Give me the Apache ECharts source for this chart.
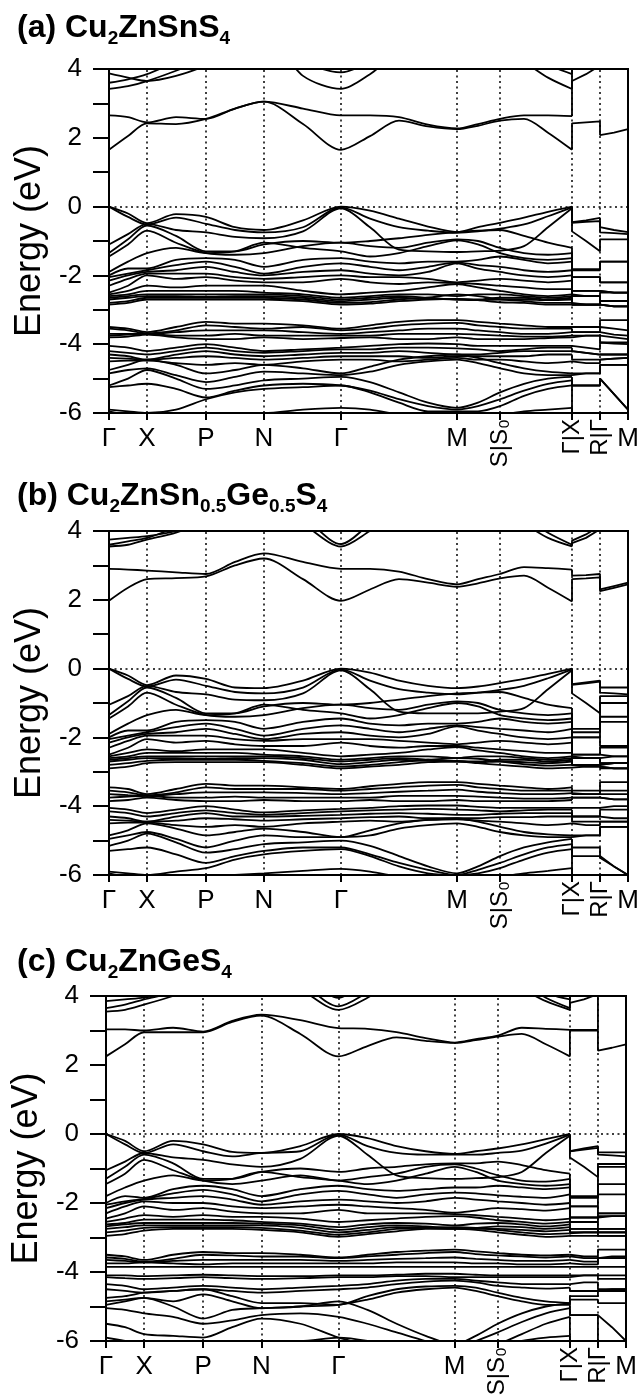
<!DOCTYPE html>
<html><head><meta charset="utf-8">
<script src="https://cdn.jsdelivr.net/npm/echarts@6/dist/echarts.min.js"></script>
<style>html,body{margin:0;padding:0;background:#fff}#c{width:644px;height:1399px}</style>
</head><body><div id="c"></div>
<script>
// k-path sample positions (path distance units)
const K_MAIN = [0,19,38,67,97,126,155,194,232,261,290,319,348,369,391,415,439,463];
const K_TAIL = [463,477,491,491,505,519];
const SYM_POS = [0,38,97,155,232,348,391,463,491,519];
const SYM_LABEL = ['Γ','X','P','N','Γ','M','S|S₀','Γ|X','R|Γ','M'];
const SYM_ROT = [0,0,0,0,0,0,1,1,1,0];
const DOTTED_POS = [38,97,155,232,348,391,463,491];
const E_MIN = -6, E_MAX = 4;
const Y_NAME = 'Energy (eV)';
const TITLES = [
  '{m|(a) Cu}{s|2}{m|ZnSnS}{s|4}',
  '{m|(b) Cu}{s|2}{m|ZnSn}{s|0.5}{m|Ge}{s|0.5}{m|S}{s|4}',
  '{m|(c) Cu}{s|2}{m|ZnGeS}{s|4}'
];

// each band: 18 values on Γ-X-P-N-Γ-M-S|S0-Γ, then 3 on X-R, then 3 on Γ-M
const BANDS_A = [
[1.65,2.05,2.42,2.4,2.55,2.85,3.05,2.4,1.65,2.05,2.5,2.33,2.25,2.35,2.5,2.55,2.15,1.65, 2.42,2.45,2.48, 2.08,2.15,2.25],
[2.65,2.6,2.45,2.6,2.55,2.85,3.05,2.85,2.65,2.65,2.6,2.38,2.27,2.4,2.55,2.65,2.65,2.63, 3.65,3.85,4.1, 4.3,4.3,4.3],
[3.42,3.5,3.65,3.95,4.3,4.6,4.8,4.2,3.9,4.2,4.6,4.7,4.7,4.6,4.5,4.3,4.1,3.85, 4.3,4.3,4.3, 4.4,4.4,4.4],
[3.6,3.7,3.85,4.2,4.5,4.8,5,3.8,3.42,3.85,4.5,4.8,4.8,4.7,4.5,4.2,3.75,3.42, 4.4,4.4,4.4, 4.5,4.5,4.5],
[3.87,3.75,3.65,3.8,4.1,4.5,4.8,4.5,4.2,4.5,4.8,5,5,5,4.8,4.5,4.3,4.1, 4.5,4.5,4.5, 4.6,4.6,4.6],
[0,-0.2,-0.48,-0.22,-0.3,-0.6,-0.68,-0.4,0,-0.12,-0.35,-0.58,-0.74,-0.6,-0.47,-0.32,-0.15,0, -0.45,-0.4,-0.33, -0.6,-0.68,-0.74],
[0,-0.3,-0.52,-0.32,-0.5,-0.68,-0.75,-0.6,-0.02,-0.35,-0.6,-0.7,-0.76,-0.72,-0.64,-0.52,-0.28,-0.02, -0.47,-0.44,-0.42, -0.75,-0.77,-0.8],
[-1.1,-0.8,-0.5,-0.68,-0.75,-0.88,-0.92,-0.72,-0.05,-0.6,-1.25,-1.3,-1.32,-1.3,-1.28,-1.15,-0.6,-0.05, -0.72,-1.0,-1.3, -0.95,-0.95,-0.95],
[-1.35,-0.95,-0.55,-0.85,-1.3,-1.3,-1.1,-1.0,-1.05,-1.0,-0.92,-0.82,-0.74,-0.7,-0.68,-0.85,-1.05,-1.2, -1.82,-1.82,-1.82, -1.6,-1.6,-1.6],
[-1.45,-1.1,-0.7,-1.05,-1.35,-1.4,-1.35,-1.15,-1.05,-1.15,-1.2,-1.05,-0.95,-1.0,-1.2,-1.35,-1.4,-1.35, -1.85,-1.85,-1.85, -1.6,-1.6,-1.6],
[-1.9,-1.6,-1.35,-1.2,-1.35,-1.3,-1.05,-1.2,-1.3,-1.45,-1.35,-1.15,-0.98,-1.1,-1.35,-1.5,-1.55,-1.5, -2.05,-2.05,-2.05, -2.2,-2.2,-2.2],
[-2.0,-1.8,-1.8,-1.55,-1.5,-1.55,-1.75,-1.55,-1.5,-1.6,-1.65,-1.6,-1.6,-1.55,-1.45,-1.55,-1.65,-1.6, -2.05,-2.05,-2.05, -2.2,-2.2,-2.2],
[-2.05,-1.95,-1.85,-1.7,-1.6,-1.75,-1.95,-1.75,-1.65,-1.75,-1.85,-1.75,-1.62,-1.7,-1.75,-1.85,-1.9,-1.85, -2.45,-2.45,-2.45, -2.5,-2.5,-2.5],
[-2.15,-2.0,-1.9,-1.85,-1.75,-1.9,-2.0,-1.9,-1.85,-1.95,-2.0,-1.9,-1.65,-1.8,-1.9,-2.0,-2.05,-2.0, -2.45,-2.45,-2.45, -2.5,-2.5,-2.5],
[-2.3,-2.1,-1.95,-1.95,-1.95,-2.05,-2.1,-2.05,-2.0,-2.05,-2.05,-2.1,-2.2,-2.15,-2.1,-2.15,-2.2,-2.15, -2.6,-2.6,-2.6, -2.5,-2.5,-2.5],
[-2.5,-2.3,-2.0,-2.1,-2.05,-2.15,-2.2,-2.2,-2.1,-2.2,-2.25,-2.2,-2.22,-2.25,-2.3,-2.35,-2.4,-2.4, -2.6,-2.6,-2.6, -2.75,-2.75,-2.75],
[-2.55,-2.45,-2.3,-2.35,-2.3,-2.3,-2.3,-2.45,-2.55,-2.5,-2.45,-2.35,-2.25,-2.35,-2.45,-2.55,-2.6,-2.55, -2.6,-2.6,-2.6, -2.75,-2.75,-2.75],
[-2.6,-2.55,-2.45,-2.45,-2.45,-2.45,-2.5,-2.55,-2.65,-2.6,-2.55,-2.55,-2.6,-2.55,-2.55,-2.6,-2.65,-2.6, -2.85,-2.85,-2.85, -2.75,-2.75,-2.75],
[-2.65,-2.6,-2.55,-2.55,-2.55,-2.55,-2.55,-2.6,-2.7,-2.65,-2.6,-2.65,-2.7,-2.7,-2.65,-2.65,-2.7,-2.65, -2.85,-2.85,-2.85, -2.75,-2.75,-2.75],
[-2.7,-2.65,-2.6,-2.6,-2.62,-2.6,-2.6,-2.65,-2.75,-2.7,-2.65,-2.68,-2.7,-2.72,-2.7,-2.7,-2.72,-2.7, -2.85,-2.85,-2.85, -2.9,-2.9,-2.9],
[-2.8,-2.75,-2.65,-2.65,-2.65,-2.65,-2.65,-2.7,-2.8,-2.78,-2.7,-2.65,-2.55,-2.6,-2.7,-2.75,-2.8,-2.8, -2.85,-2.85,-2.85, -2.9,-2.9,-2.9],
[-2.85,-2.8,-2.7,-2.7,-2.7,-2.7,-2.7,-2.75,-2.85,-2.82,-2.75,-2.7,-2.68,-2.72,-2.78,-2.8,-2.85,-2.85, -2.85,-2.85,-2.85, -2.9,-2.9,-2.9],
[-3.5,-3.55,-3.65,-3.5,-3.35,-3.4,-3.4,-3.45,-3.55,-3.45,-3.35,-3.3,-3.3,-3.35,-3.4,-3.45,-3.5,-3.5, -3.5,-3.5,-3.5, -3.3,-3.3,-3.3],
[-3.55,-3.6,-3.68,-3.6,-3.45,-3.5,-3.55,-3.5,-3.6,-3.55,-3.45,-3.4,-3.38,-3.45,-3.5,-3.55,-3.55,-3.55, -3.65,-3.65,-3.65, -3.5,-3.55,-3.6],
[-3.7,-3.7,-3.7,-3.65,-3.6,-3.6,-3.6,-3.65,-3.7,-3.65,-3.6,-3.55,-3.55,-3.6,-3.65,-3.7,-3.7,-3.65, -3.65,-3.65,-3.65, -3.7,-3.72,-3.75],
[-3.75,-3.72,-3.7,-3.75,-3.75,-3.7,-3.75,-3.75,-3.75,-3.75,-3.7,-3.7,-3.7,-3.72,-3.75,-3.78,-3.78,-3.75, -3.75,-3.75,-3.75, -3.75,-3.8,-3.85],
[-3.8,-3.78,-3.72,-3.8,-3.85,-3.85,-3.8,-3.85,-3.82,-3.8,-3.85,-3.85,-3.8,-3.85,-3.85,-3.85,-3.82,-3.8, -3.75,-3.75,-3.75, -3.95,-3.95,-3.95],
[-4.05,-4.1,-4.2,-4.1,-4.0,-4.1,-4.2,-4.15,-4.1,-4.05,-4.0,-3.98,-4.0,-4.05,-4.05,-4.05,-4.05,-4.05, -4.05,-4.1,-4.15, -3.95,-3.98,-4.0],
[-4.2,-4.25,-4.3,-4.2,-4.1,-4.2,-4.25,-4.2,-4.15,-4.15,-4.1,-4.1,-4.12,-4.15,-4.2,-4.15,-4.1,-4.1, -4.2,-4.25,-4.3, -4.3,-4.3,-4.3],
[-4.3,-4.35,-4.45,-4.3,-4.2,-4.3,-4.35,-4.3,-4.25,-4.25,-4.2,-4.25,-4.3,-4.3,-4.25,-4.2,-4.2,-4.2, -4.2,-4.25,-4.3, -4.3,-4.3,-4.3],
[-4.4,-4.42,-4.45,-4.4,-4.35,-4.4,-4.45,-4.4,-4.35,-4.35,-4.35,-4.4,-4.35,-4.35,-4.35,-4.35,-4.3,-4.3, -4.45,-4.45,-4.45, -4.45,-4.42,-4.4],
[-4.5,-4.48,-4.48,-4.55,-4.6,-4.55,-4.6,-4.5,-4.45,-4.45,-4.5,-4.45,-4.4,-4.45,-4.45,-4.5,-4.55,-4.5, -4.55,-4.55,-4.55, -4.45,-4.42,-4.4],
[-4.75,-4.6,-4.45,-4.6,-4.85,-4.75,-4.6,-4.7,-4.85,-4.65,-4.45,-4.35,-4.3,-4.4,-4.55,-4.7,-4.8,-4.85, -4.85,-4.85,-4.85, -4.6,-4.6,-4.6],
[-4.85,-4.75,-4.7,-4.9,-5.1,-4.95,-4.8,-4.85,-4.9,-4.8,-4.6,-4.5,-4.45,-4.55,-4.7,-4.85,-4.9,-4.9, -4.85,-4.85,-4.85, -4.6,-4.6,-4.6],
[-5.2,-5.0,-4.75,-5.0,-5.3,-5.2,-5.05,-5.0,-4.95,-5.1,-5.4,-5.7,-5.85,-5.7,-5.4,-5.15,-5.0,-4.95, -5.2,-5.2,-5.2, -5.0,-5.45,-5.9],
[-5.25,-5.2,-5.15,-5.3,-5.55,-5.35,-5.2,-5.15,-5.2,-5.35,-5.6,-5.8,-5.9,-5.8,-5.6,-5.35,-5.15,-5.05, -5.2,-5.2,-5.2, -5.0,-5.45,-5.9],
[-5.9,-5.95,-6.0,-5.9,-5.6,-5.4,-5.3,-5.25,-5.2,-5.4,-5.7,-5.95,-5.95,-5.95,-5.8,-5.5,-5.3,-5.2, -6.1,-6.1,-6.1, -6.1,-6.1,-6.1],
[-5.95,-6.05,-6.1,-6.1,-6.05,-6.0,-6.0,-5.9,-5.85,-5.9,-6.05,-6.15,-6.2,-6.15,-6.05,-5.95,-5.9,-5.85, -6.1,-6.1,-6.1, -6.2,-6.2,-6.2]
];

const BANDS_B = [
[1.97,2.35,2.6,2.63,2.68,3.0,3.2,2.6,1.97,2.3,2.6,2.5,2.38,2.48,2.62,2.7,2.35,1.95, 2.6,2.62,2.65, 2.25,2.35,2.45],
[2.9,2.88,2.85,2.8,2.75,3.1,3.35,3.1,2.9,2.9,2.82,2.6,2.45,2.6,2.75,2.95,2.92,2.88, 2.7,2.72,2.75, 2.3,2.4,2.5],
[3.55,3.6,3.75,3.95,4.3,4.6,4.8,4.2,3.55,4.0,4.5,4.8,4.8,4.7,4.5,4.2,3.8,3.55, 3.65,3.8,4.05, 4.3,4.3,4.3],
[3.6,3.7,3.8,4.1,4.4,4.7,4.9,4.4,3.62,4.2,4.7,5,5,4.9,4.7,4.4,3.95,3.6, 3.72,3.9,4.15, 4.4,4.4,4.4],
[3.75,3.8,3.85,4.0,4.3,4.6,4.9,4.6,4.2,4.5,4.8,5,5,5,4.9,4.7,4.4,4.15, 4.3,4.3,4.3, 4.5,4.5,4.5],
[0,-0.2,-0.48,-0.2,-0.3,-0.55,-0.57,-0.35,0,-0.12,-0.35,-0.5,-0.57,-0.52,-0.42,-0.3,-0.15,0, -0.45,-0.4,-0.35, -0.55,-0.55,-0.55],
[0,-0.3,-0.52,-0.32,-0.5,-0.68,-0.72,-0.55,-0.02,-0.35,-0.6,-0.7,-0.75,-0.7,-0.62,-0.5,-0.28,-0.02, -0.47,-0.43,-0.38, -0.7,-0.72,-0.75],
[-1.05,-0.8,-0.5,-0.68,-0.75,-0.9,-0.92,-0.72,-0.05,-0.6,-1.25,-1.3,-1.3,-1.3,-1.25,-1.15,-0.6,-0.05, -0.72,-1.0,-1.3, -0.8,-0.8,-0.8],
[-1.35,-0.95,-0.55,-0.85,-1.3,-1.3,-1.1,-1.0,-1.05,-1.0,-0.9,-0.8,-0.72,-0.7,-0.68,-0.85,-1.05,-1.15, -1.75,-1.75,-1.75, -1.0,-1.0,-1.0],
[-1.45,-1.1,-0.7,-1.05,-1.35,-1.4,-1.35,-1.15,-1.05,-1.15,-1.2,-1.05,-0.95,-1.0,-1.2,-1.3,-1.35,-1.3, -1.85,-1.85,-1.85, -1.4,-1.4,-1.4],
[-1.9,-1.6,-1.35,-1.2,-1.35,-1.3,-1.05,-1.2,-1.3,-1.45,-1.35,-1.15,-1.0,-1.1,-1.35,-1.45,-1.5,-1.45, -2.0,-2.0,-2.0, -1.55,-1.55,-1.55],
[-2.0,-1.8,-1.8,-1.55,-1.5,-1.55,-1.75,-1.55,-1.45,-1.6,-1.65,-1.6,-1.6,-1.55,-1.45,-1.55,-1.6,-1.55, -2.0,-2.0,-2.0, -2.25,-2.25,-2.25],
[-2.05,-1.95,-1.85,-1.7,-1.6,-1.75,-1.95,-1.75,-1.65,-1.75,-1.85,-1.75,-1.65,-1.7,-1.75,-1.8,-1.85,-1.75, -2.5,-2.5,-2.5, -2.3,-2.3,-2.3],
[-2.15,-2.0,-1.9,-1.85,-1.75,-1.9,-2.05,-1.9,-1.85,-1.95,-2.0,-1.9,-1.68,-1.8,-1.9,-2.0,-2.05,-2.0, -2.5,-2.5,-2.5, -2.55,-2.55,-2.55],
[-2.3,-2.1,-1.95,-1.95,-1.95,-2.05,-2.1,-2.05,-2.05,-2.05,-2.1,-2.15,-2.2,-2.15,-2.1,-2.15,-2.2,-2.15, -2.6,-2.6,-2.6, -2.55,-2.55,-2.55],
[-2.5,-2.3,-2.05,-2.15,-2.1,-2.2,-2.25,-2.25,-2.15,-2.25,-2.3,-2.25,-2.25,-2.3,-2.35,-2.4,-2.45,-2.45, -2.6,-2.6,-2.6, -2.75,-2.75,-2.75],
[-2.55,-2.45,-2.35,-2.4,-2.35,-2.35,-2.35,-2.45,-2.55,-2.5,-2.45,-2.35,-2.28,-2.38,-2.45,-2.55,-2.6,-2.55, -2.6,-2.6,-2.6, -2.75,-2.75,-2.75],
[-2.6,-2.55,-2.45,-2.45,-2.45,-2.45,-2.5,-2.55,-2.65,-2.6,-2.55,-2.55,-2.6,-2.55,-2.55,-2.6,-2.65,-2.6, -2.8,-2.8,-2.8, -2.75,-2.75,-2.75],
[-2.65,-2.6,-2.55,-2.55,-2.55,-2.55,-2.55,-2.6,-2.7,-2.65,-2.6,-2.65,-2.68,-2.7,-2.65,-2.65,-2.7,-2.65, -2.8,-2.8,-2.8, -2.75,-2.75,-2.75],
[-2.7,-2.65,-2.6,-2.6,-2.62,-2.6,-2.6,-2.65,-2.78,-2.72,-2.65,-2.68,-2.7,-2.72,-2.7,-2.72,-2.75,-2.7, -2.8,-2.8,-2.8, -2.9,-2.9,-2.9],
[-2.8,-2.75,-2.68,-2.65,-2.65,-2.65,-2.68,-2.75,-2.85,-2.8,-2.72,-2.65,-2.6,-2.62,-2.7,-2.78,-2.82,-2.8, -2.85,-2.85,-2.85, -2.9,-2.9,-2.9],
[-2.9,-2.85,-2.75,-2.72,-2.72,-2.72,-2.72,-2.8,-2.9,-2.85,-2.8,-2.72,-2.7,-2.75,-2.8,-2.85,-2.9,-2.88, -2.85,-2.85,-2.85, -2.9,-2.9,-2.9],
[-3.45,-3.5,-3.65,-3.5,-3.35,-3.4,-3.4,-3.45,-3.5,-3.42,-3.35,-3.3,-3.3,-3.35,-3.4,-3.45,-3.5,-3.45, -3.55,-3.55,-3.55, -3.3,-3.3,-3.3],
[-3.55,-3.6,-3.68,-3.6,-3.45,-3.5,-3.5,-3.5,-3.55,-3.5,-3.45,-3.4,-3.38,-3.45,-3.5,-3.55,-3.55,-3.55, -3.65,-3.65,-3.65, -3.55,-3.55,-3.55],
[-3.65,-3.68,-3.7,-3.65,-3.6,-3.6,-3.6,-3.62,-3.65,-3.62,-3.58,-3.55,-3.52,-3.58,-3.62,-3.65,-3.65,-3.62, -3.65,-3.65,-3.65, -3.65,-3.65,-3.65],
[-3.75,-3.72,-3.7,-3.75,-3.75,-3.72,-3.75,-3.75,-3.75,-3.75,-3.7,-3.7,-3.7,-3.72,-3.75,-3.78,-3.78,-3.75, -3.75,-3.75,-3.75, -3.8,-3.8,-3.8],
[-3.85,-3.82,-3.75,-3.82,-3.85,-3.85,-3.82,-3.85,-3.85,-3.82,-3.85,-3.85,-3.82,-3.85,-3.85,-3.85,-3.85,-3.82, -3.75,-3.75,-3.75, -3.8,-3.8,-3.8],
[-4.05,-4.1,-4.2,-4.1,-4.0,-4.1,-4.18,-4.12,-4.08,-4.05,-4.0,-3.98,-3.98,-4.02,-4.05,-4.05,-4.05,-4.05, -4.05,-4.05,-4.05, -4.0,-4.0,-4.0],
[-4.15,-4.2,-4.3,-4.2,-4.12,-4.2,-4.25,-4.2,-4.15,-4.12,-4.1,-4.08,-4.1,-4.12,-4.15,-4.12,-4.1,-4.1, -4.3,-4.3,-4.3, -4.1,-4.1,-4.1],
[-4.3,-4.35,-4.45,-4.3,-4.2,-4.3,-4.3,-4.28,-4.25,-4.22,-4.2,-4.22,-4.25,-4.25,-4.22,-4.2,-4.2,-4.2, -4.3,-4.3,-4.3, -4.35,-4.35,-4.35],
[-4.4,-4.42,-4.45,-4.42,-4.35,-4.38,-4.42,-4.38,-4.35,-4.32,-4.3,-4.35,-4.35,-4.35,-4.32,-4.32,-4.3,-4.3, -4.45,-4.45,-4.45, -4.45,-4.45,-4.45],
[-4.5,-4.48,-4.48,-4.55,-4.6,-4.55,-4.6,-4.5,-4.45,-4.42,-4.45,-4.4,-4.38,-4.42,-4.45,-4.5,-4.55,-4.5, -4.55,-4.55,-4.55, -4.45,-4.45,-4.45],
[-4.85,-4.7,-4.5,-4.65,-4.85,-4.75,-4.65,-4.75,-4.9,-4.7,-4.5,-4.4,-4.35,-4.45,-4.6,-4.75,-4.82,-4.85, -4.85,-4.85,-4.85, -4.6,-4.6,-4.6],
[-4.95,-4.85,-4.75,-4.95,-5.2,-5.0,-4.85,-4.9,-4.9,-4.85,-4.65,-4.55,-4.5,-4.6,-4.75,-4.85,-4.9,-4.9, -4.85,-4.85,-4.85, -4.6,-4.6,-4.6],
[-5.15,-5.0,-4.8,-5.05,-5.35,-5.25,-5.1,-5.05,-5.0,-5.15,-5.45,-5.75,-5.95,-5.75,-5.45,-5.2,-5.05,-4.95, -5.2,-5.2,-5.2, -5.5,-5.75,-6.0],
[-5.3,-5.25,-5.2,-5.4,-5.65,-5.45,-5.3,-5.2,-5.2,-5.4,-5.65,-5.85,-6.0,-5.85,-5.65,-5.4,-5.2,-5.1, -5.45,-5.45,-5.45, -5.5,-5.75,-6.0],
[-5.9,-5.95,-6.0,-5.9,-5.8,-5.55,-5.4,-5.3,-5.25,-5.45,-5.75,-5.95,-6.0,-5.95,-5.8,-5.55,-5.35,-5.25, -6.1,-6.1,-6.1, -6.1,-6.1,-6.1],
[-5.95,-6.05,-6.1,-6.1,-6.05,-6.0,-5.95,-5.88,-5.82,-5.9,-6.05,-6.15,-6.2,-6.15,-6.05,-5.95,-5.88,-5.8, -6.1,-6.1,-6.1, -6.2,-6.2,-6.2]
];

const BANDS_C = [
[2.25,2.6,2.95,2.95,2.95,3.25,3.43,2.9,2.25,2.55,2.8,2.7,2.64,2.72,2.82,2.9,2.6,2.25, 3.0,3.0,3.0, 2.42,2.5,2.6],
[3.03,3.03,3.0,3.08,2.97,3.28,3.46,3.3,3.07,3.05,2.95,2.78,2.65,2.75,2.85,3.08,3.05,3.02, 3.02,3.02,3.02, 4.3,4.3,4.3],
[3.55,3.6,3.75,4.0,4.3,4.6,4.8,4.2,3.6,3.95,4.5,4.8,4.8,4.7,4.5,4.2,3.85,3.6, 3.8,3.9,4.05, 4.4,4.4,4.4],
[3.65,3.75,3.9,4.1,4.4,4.7,4.9,4.4,3.7,4.1,4.6,5,5,4.9,4.7,4.4,3.95,3.65, 4.2,4.2,4.2, 4.5,4.5,4.5],
[3.85,3.9,3.95,4.1,4.3,4.6,4.9,4.6,3.95,4.4,4.8,5,5,5,4.9,4.6,4.1,3.9, 4.3,4.3,4.3, 4.6,4.6,4.6],
[0,-0.2,-0.5,-0.2,-0.3,-0.52,-0.55,-0.35,0,-0.12,-0.35,-0.5,-0.58,-0.5,-0.42,-0.3,-0.15,0, -0.5,-0.42,-0.35, -0.53,-0.53,-0.53],
[0,-0.3,-0.55,-0.3,-0.5,-0.65,-0.55,-0.5,-0.02,-0.35,-0.55,-0.6,-0.6,-0.6,-0.55,-0.48,-0.28,-0.02, -0.5,-0.45,-0.4, -0.6,-0.62,-0.65],
[-1.05,-0.8,-0.55,-0.68,-0.75,-0.88,-0.95,-0.72,-0.05,-0.6,-1.2,-1.28,-1.3,-1.28,-1.25,-1.1,-0.55,-0.05, -0.68,-0.95,-1.25, -0.87,-0.87,-0.87],
[-1.3,-0.95,-0.6,-0.85,-1.3,-1.3,-1.1,-1.0,-1.1,-1.0,-0.95,-0.88,-0.85,-0.85,-0.8,-0.9,-1.05,-1.15, -1.8,-1.8,-1.8, -0.95,-0.95,-0.95],
[-1.45,-1.15,-0.75,-1.05,-1.35,-1.45,-1.35,-1.2,-1.35,-1.25,-1.15,-0.95,-0.88,-1.0,-1.2,-1.35,-1.38,-1.3, -1.85,-1.85,-1.85, -1.45,-1.45,-1.45],
[-1.8,-1.55,-1.35,-1.2,-1.35,-1.3,-1.1,-1.25,-1.35,-1.45,-1.35,-1.15,-0.95,-1.1,-1.35,-1.45,-1.5,-1.45, -2.1,-2.1,-2.1, -1.75,-1.75,-1.75],
[-2.0,-1.8,-1.85,-1.6,-1.5,-1.6,-1.8,-1.6,-1.5,-1.6,-1.65,-1.6,-1.55,-1.55,-1.5,-1.55,-1.6,-1.55, -2.1,-2.1,-2.1, -2.3,-2.3,-2.3],
[-2.05,-1.95,-1.88,-1.72,-1.62,-1.75,-1.95,-1.75,-1.65,-1.75,-1.85,-1.75,-1.7,-1.72,-1.78,-1.82,-1.85,-1.75, -2.42,-2.42,-2.42, -2.3,-2.3,-2.3],
[-2.15,-2.0,-1.9,-1.85,-1.8,-1.9,-2.05,-1.95,-1.9,-1.95,-2.0,-1.95,-1.85,-1.9,-1.95,-2.0,-2.05,-2.0, -2.42,-2.42,-2.42, -2.38,-2.38,-2.38],
[-2.3,-2.1,-1.95,-2.0,-2.0,-2.1,-2.15,-2.1,-2.05,-2.1,-2.15,-2.2,-2.28,-2.22,-2.15,-2.18,-2.22,-2.15, -2.55,-2.55,-2.55, -2.38,-2.38,-2.38],
[-2.45,-2.3,-2.1,-2.2,-2.15,-2.25,-2.3,-2.3,-2.2,-2.3,-2.3,-2.3,-2.32,-2.35,-2.4,-2.45,-2.5,-2.45, -2.55,-2.55,-2.55, -2.75,-2.75,-2.75],
[-2.55,-2.45,-2.35,-2.4,-2.35,-2.4,-2.4,-2.45,-2.55,-2.5,-2.45,-2.4,-2.38,-2.42,-2.5,-2.55,-2.6,-2.55, -2.75,-2.75,-2.75, -2.75,-2.75,-2.75],
[-2.62,-2.58,-2.48,-2.48,-2.48,-2.5,-2.55,-2.6,-2.7,-2.62,-2.58,-2.6,-2.65,-2.6,-2.58,-2.62,-2.68,-2.62, -2.75,-2.75,-2.75, -2.85,-2.85,-2.85],
[-2.68,-2.62,-2.58,-2.58,-2.58,-2.58,-2.6,-2.65,-2.78,-2.7,-2.65,-2.68,-2.72,-2.72,-2.68,-2.7,-2.75,-2.7, -2.85,-2.85,-2.85, -2.85,-2.85,-2.85],
[-2.75,-2.7,-2.65,-2.65,-2.65,-2.65,-2.65,-2.72,-2.85,-2.78,-2.7,-2.72,-2.75,-2.75,-2.75,-2.78,-2.82,-2.78, -2.85,-2.85,-2.85, -2.85,-2.85,-2.85],
[-2.85,-2.8,-2.72,-2.7,-2.7,-2.7,-2.72,-2.8,-2.92,-2.85,-2.75,-2.72,-2.7,-2.72,-2.78,-2.85,-2.9,-2.88, -2.85,-2.85,-2.85, -2.95,-2.95,-2.95],
[-2.95,-2.9,-2.8,-2.75,-2.75,-2.75,-2.78,-2.85,-2.98,-2.9,-2.82,-2.75,-2.75,-2.78,-2.85,-2.92,-2.98,-2.95, -2.95,-2.95,-2.95, -2.95,-2.95,-2.95],
[-3.5,-3.55,-3.65,-3.5,-3.42,-3.45,-3.45,-3.5,-3.58,-3.5,-3.42,-3.38,-3.35,-3.4,-3.45,-3.5,-3.52,-3.5, -3.55,-3.55,-3.55, -3.35,-3.35,-3.35],
[-3.58,-3.62,-3.7,-3.62,-3.5,-3.52,-3.55,-3.55,-3.6,-3.55,-3.5,-3.45,-3.42,-3.48,-3.52,-3.55,-3.58,-3.55, -3.6,-3.6,-3.6, -3.55,-3.55,-3.55],
[-3.65,-3.68,-3.72,-3.68,-3.65,-3.65,-3.65,-3.65,-3.68,-3.65,-3.62,-3.6,-3.58,-3.62,-3.65,-3.68,-3.68,-3.65, -3.7,-3.7,-3.7, -3.6,-3.6,-3.6],
[-3.75,-3.75,-3.72,-3.75,-3.78,-3.75,-3.75,-3.75,-3.75,-3.75,-3.72,-3.72,-3.72,-3.75,-3.75,-3.78,-3.78,-3.75, -3.78,-3.78,-3.78, -3.6,-3.6,-3.6],
[-3.85,-3.85,-3.85,-3.85,-3.85,-3.85,-3.85,-3.85,-3.85,-3.85,-3.85,-3.85,-3.85,-3.85,-3.85,-3.85,-3.85,-3.85, -3.85,-3.85,-3.85, -3.85,-3.85,-3.85],
[-4.1,-4.1,-4.12,-4.1,-4.08,-4.1,-4.12,-4.12,-4.1,-4.1,-4.08,-4.05,-4.05,-4.08,-4.1,-4.1,-4.1,-4.1, -4.1,-4.1,-4.1, -4.1,-4.1,-4.1],
[-4.15,-4.18,-4.2,-4.18,-4.15,-4.18,-4.2,-4.18,-4.15,-4.15,-4.12,-4.12,-4.15,-4.15,-4.15,-4.15,-4.15,-4.15, -4.1,-4.1,-4.1, -4.2,-4.2,-4.2],
[-4.35,-4.4,-4.5,-4.45,-4.4,-4.45,-4.5,-4.45,-4.4,-4.35,-4.25,-4.2,-4.2,-4.25,-4.3,-4.35,-4.35,-4.35, -4.3,-4.3,-4.3, -4.5,-4.5,-4.5],
[-4.5,-4.55,-4.6,-4.55,-4.5,-4.55,-4.6,-4.55,-4.5,-4.45,-4.35,-4.28,-4.25,-4.3,-4.4,-4.45,-4.48,-4.45, -4.55,-4.55,-4.55, -4.5,-4.5,-4.5],
[-4.75,-4.7,-4.6,-4.55,-4.5,-4.7,-4.9,-4.9,-4.95,-4.7,-4.5,-4.42,-4.4,-4.45,-4.6,-4.75,-4.85,-4.9, -4.7,-4.7,-4.7, -4.55,-4.55,-4.55],
[-4.85,-4.8,-4.75,-4.85,-4.65,-4.85,-5.05,-5.0,-4.95,-4.8,-4.6,-4.5,-4.45,-4.55,-4.7,-4.85,-4.95,-4.95, -4.8,-4.8,-4.8, -4.9,-4.9,-4.9],
[-4.95,-4.85,-4.75,-5.0,-5.35,-5.1,-5.05,-5.0,-4.85,-5.1,-5.5,-5.85,-6.1,-5.85,-5.5,-5.2,-5.0,-4.9, -5.25,-5.25,-5.25, -5.2,-5.6,-6.0],
[-5.05,-5.1,-5.2,-5.3,-5.5,-5.4,-5.25,-5.2,-5.3,-5.5,-5.75,-6.0,-6.2,-6.0,-5.75,-5.45,-5.2,-5.05, -5.25,-5.25,-5.25, -6.1,-6.1,-6.1],
[-5.5,-5.6,-5.8,-5.85,-5.9,-5.6,-5.35,-5.5,-5.9,-6.1,-6.3,-6.4,-6.4,-6.3,-6.1,-5.8,-5.5,-5.3, -6.1,-6.1,-6.1, -6.2,-6.2,-6.2],
[-5.9,-6.0,-6.1,-6.1,-6.05,-6.0,-6.0,-6.0,-5.9,-6.0,-6.2,-6.4,-6.5,-6.4,-6.2,-6.0,-5.9,-5.85, -6.1,-6.1,-6.1, -6.3,-6.3,-6.3]
];

const PANEL_BANDS = [BANDS_A, BANDS_B, BANDS_C];

// ---------- layout ----------
const FONT = '"Liberation Sans", Arial, Helvetica, sans-serif';
const GRIDS = [
  {left:109, top:69,  width:519, height:344},
  {left:109, top:531, width:519, height:344},
  {left:106, top:996, width:520, height:345}
];
const TITLE_TOPS = [8, 476, 942];

const grid = [], xAxis = [], yAxis = [], series = [], title = [];
GRIDS.forEach((g, gi) => {
  grid.push(Object.assign({show:true, borderColor:'#000', borderWidth:2, backgroundColor:'transparent', containLabel:false}, g));
  title.push({
    text: TITLES[gi], left: 17, top: TITLE_TOPS[gi], padding: 0,
    textStyle: { rich: {
      m: {fontFamily: FONT, fontWeight: 'bold', fontSize: 32, lineHeight: 40, color: '#000'},
      s: {fontFamily: FONT, fontWeight: 'bold', fontSize: 19, lineHeight: 24, verticalAlign: 'bottom', color: '#000'}
    }}
  });
  const uprightVals = SYM_POS.filter((p, i) => !SYM_ROT[i]);
  const rotVals = SYM_POS.filter((p, i) => SYM_ROT[i]);
  const lab = v => { const i = SYM_POS.indexOf(v); return i >= 0 ? SYM_LABEL[i] : ''; };
  xAxis.push({
    type:'value', gridIndex: gi, min: 0, max: 519, position:'bottom',
    axisLine:{show:true, onZero:false, lineStyle:{color:'#000', width:2}},
    axisTick:{show:true, customValues: SYM_POS, length:7, inside:false, lineStyle:{color:'#000', width:2}},
    axisLabel:{show:true, customValues: uprightVals, formatter: lab, color:'#000', fontSize:26, fontFamily: FONT, margin:13},
    splitLine:{show:false}
  });
  xAxis.push({
    type:'value', gridIndex: gi, min: 0, max: 519, position:'bottom',
    axisLine:{show:false}, axisTick:{show:false}, splitLine:{show:false},
    axisLabel:{show:true, customValues: rotVals, formatter: lab, rotate: 90, color:'#000', fontSize:24, fontFamily: FONT, margin:6}
  });
  yAxis.push({
    type:'value', gridIndex: gi, min: E_MIN, max: E_MAX, interval: 1,
    name: Y_NAME, nameLocation:'middle', nameGap: 57, nameRotate: 90,
    nameTextStyle:{fontSize: 36, fontFamily: FONT, color:'#000'},
    axisLine:{show:true, lineStyle:{color:'#000', width:2}},
    axisTick:{show:true, length:16, inside:false, lineStyle:{color:'#000', width:2}},
    axisLabel:{formatter: v => (v % 2 === 0 ? String(v) : ''), fontSize: 26, fontFamily: FONT, color:'#000', margin: 27},
    splitLine:{show:false}
  });
  const bands = PANEL_BANDS[gi];
  bands.forEach((b, bi) => {
    const main = K_MAIN.map((k, j) => [k, b[j]]);
    const tail = [[K_TAIL[0], b[17]]].concat(K_TAIL.map((k, j) => [k, b[18 + j]]));
    const base = {type:'line', xAxisIndex: gi*2, yAxisIndex: gi, symbol:'none', silent:true, animation:false, clip:true,
                  lineStyle:{color:'#000', width:1.8}};
    const s1 = Object.assign({}, base, {data: main, smooth: 0.3});
    if (bi === 0) {
      s1.markLine = {silent:true, symbol:'none', animation:false, label:{show:false},
        lineStyle:{color:'#000', width:1.5, type:[2,3.5]},
        data: DOTTED_POS.map(x => ({xAxis: x})).concat([{yAxis: 0}])};
    }
    series.push(s1);
    series.push(Object.assign({}, base, {data: tail, smooth: false}));
  });
});

const chart = echarts.init(document.getElementById('c'), null, {renderer:'canvas'});
chart.setOption({animation:false, backgroundColor:'#fff', title, grid, xAxis, yAxis, series});
</script>
</body></html>
